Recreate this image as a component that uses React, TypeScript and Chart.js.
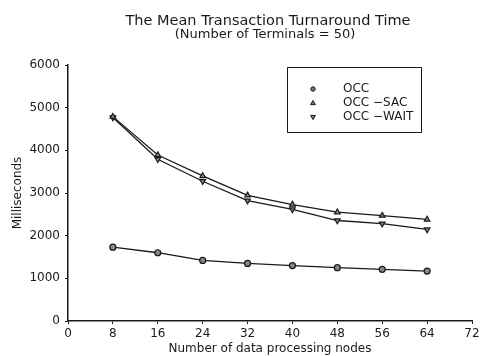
import React, { useEffect, useRef } from "react";
import { Chart, registerables } from "chart.js";

Chart.register(...registerables);

const nodes = [8, 16, 24, 32, 40, 48, 56, 64];
const occ = [1730, 1600, 1420, 1350, 1300, 1250, 1210, 1170];
const occSac = [4790, 3890, 3400, 2945, 2730, 2550, 2470, 2380];
const occWait = [4770, 3790, 3275, 2820, 2615, 2355, 2280, 2145];
const seriesNames = ["OCC", "OCC \u2212SAC", "OCC \u2212WAIT"];
const titleText = "The Mean Transaction Turnaround Time";
const subtitleText = "(Number of Terminals = 50)";
const xTitle = "Number of data processing nodes";
const yTitle = "Milliseconds";

const FONT = "'DejaVu Sans', sans-serif";
const INK = "#1a1a1a";

export default function App() {
  const ref = useRef<HTMLCanvasElement | null>(null);

  useEffect(() => {
    const canvas = ref.current;
    if (!canvas) return;

    const textPlugin = {
      id: "texts",
      afterDraw(chart: any) {
        const ctx = chart.ctx;
        ctx.save();
        ctx.fillStyle = INK;
        ctx.textAlign = "center";
        ctx.textBaseline = "middle";
        ctx.font = `14.5px ${FONT}`;
        ctx.fillText(titleText, 268, 21);
        ctx.font = `13px ${FONT}`;
        ctx.fillText(subtitleText, 245 + 20, 35);

        // legend box
        ctx.strokeStyle = INK;
        ctx.lineWidth = 1;
        ctx.strokeRect(287.5, 67.5, 134, 65);
        const rows = [89, 103, 117];
        ctx.textAlign = "left";
        ctx.font = `12px ${FONT}`;
        chart.data.datasets.forEach((ds: any, i: number) => {
          const y = rows[i];
          ctx.fillStyle = INK;
          ctx.fillText(seriesNames[i], 343, y);
          ctx.save();
          ctx.translate(313, y);
          ctx.beginPath();
          if (ds.pointStyle === "circle") {
            ctx.arc(0, 0, 2.2, 0, Math.PI * 2);
            ctx.fillStyle = "#777";
            ctx.fill();
            ctx.stroke();
          } else {
            const up = !ds.pointRotation;
            const s = up ? 1 : -1;
            ctx.moveTo(0, -2.6 * s);
            ctx.lineTo(2.4, 1.6 * s);
            ctx.lineTo(-2.4, 1.6 * s);
            ctx.closePath();
            ctx.fillStyle = "#777";
            ctx.fill();
            ctx.stroke();
          }
          ctx.restore();
        });
        ctx.restore();
      },
    };

    const mk = (data: number[]) => nodes.map((x, i) => ({ x, y: data[i] }));

    const chart = new Chart(canvas, {
      type: "line",
      data: {
        datasets: [
          {
            label: seriesNames[0],
            data: mk(occ),
            borderColor: INK,
            borderWidth: 1.3,
            pointStyle: "circle",
            pointRadius: 3,
            pointBackgroundColor: "#888",
            pointBorderColor: INK,
            pointBorderWidth: 1.2,
          },
          {
            label: seriesNames[1],
            data: mk(occSac),
            borderColor: INK,
            borderWidth: 1.3,
            pointStyle: "triangle",
            pointRadius: 3.2,
            pointBackgroundColor: "#888",
            pointBorderColor: INK,
            pointBorderWidth: 1.2,
          },
          {
            label: seriesNames[2],
            data: mk(occWait),
            borderColor: INK,
            borderWidth: 1.3,
            pointStyle: "triangle",
            pointRotation: 180,
            pointRadius: 3.2,
            pointBackgroundColor: "#888",
            pointBorderColor: INK,
            pointBorderWidth: 1.2,
          },
        ],
      },
      options: {
        responsive: false,
        animation: false,
        devicePixelRatio: 1,
        layout: { padding: { top: 65, right: 11, bottom: 0, left: 0 } },
        plugins: {
          legend: { display: false },
          title: { display: false },
          tooltip: { enabled: false },
        },
        scales: {
          x: {
            type: "linear",
            min: 0,
            max: 72,
            afterFit: (s: any) => {
              s.height = 35;
            },
            ticks: {
              stepSize: 8,
              color: INK,
              font: { family: FONT, size: 12 },
              padding: 3,
              maxRotation: 0,
              callback: (v: any) => String(v),
            },
            grid: { drawOnChartArea: false, tickLength: 3, color: INK },
            border: { color: INK, width: 1.5 },
            title: {
              display: true,
              text: xTitle,
              color: INK,
              font: { family: FONT, size: 12 },
              padding: { top: 0, bottom: 0 },
            },
          },
          y: {
            type: "linear",
            min: 0,
            max: 6000,
            afterFit: (s: any) => {
              s.width = 68;
            },
            ticks: {
              stepSize: 1000,
              color: INK,
              font: { family: FONT, size: 12 },
              padding: 5,
              callback: (v: any) => String(v),
            },
            grid: { drawOnChartArea: false, tickLength: 3, color: INK },
            border: { color: INK, width: 1.5 },
            title: {
              display: true,
              text: yTitle,
              color: INK,
              font: { family: FONT, size: 12 },
              padding: { top: 11, bottom: 0 },
            },
          },
        },
      },
      plugins: [textPlugin],
    } as any);

    return () => chart.destroy();
  }, []);

  return (
    <div style={{ position: "absolute", left: 0, top: 0, width: 483, height: 356, background: "#fff" }}>
      <canvas ref={ref} width={483} height={356} style={{ width: 483, height: 356, display: "block" }} />
    </div>
  );
}
